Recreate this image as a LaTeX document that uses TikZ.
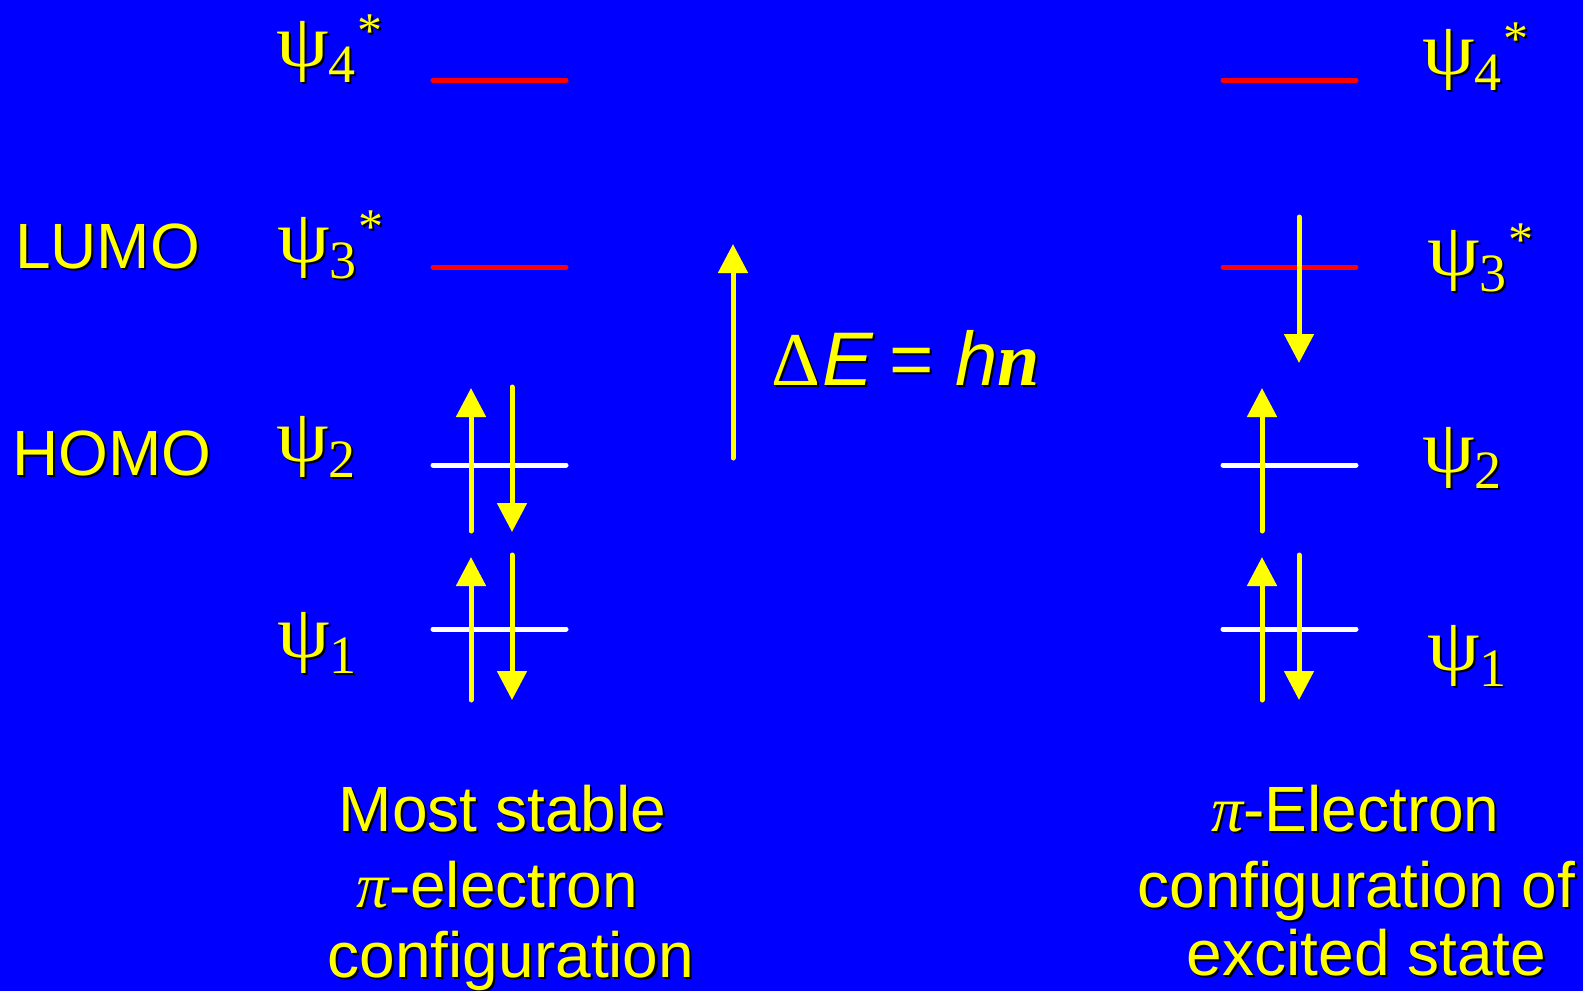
\documentclass[tikz,border=0pt]{standalone}
\usepackage{fontspec}
\setmainfont{Liberation Sans}
\newfontfamily\serif{Liberation Serif}
\usetikzlibrary{arrows.meta}
\definecolor{bg}{RGB}{0,0,255}
\definecolor{yel}{RGB}{255,255,0}
\definecolor{redl}{RGB}{255,0,0}
\newcommand\shd[1]{\makebox[0pt][l]{\hspace{2pt}\raisebox{-2pt}{\color{black}#1}}#1}
\newcommand\psilab[2]{\setbox0=\hbox{\fontsize{75}{75}\selectfont\serif\scalebox{1.12}[1]{ψ}}\raisebox{\dp0}{\copy0}{\fontsize{54}{54}\selectfont\serif #1}\kern2pt\raisebox{35pt}{\fontsize{50}{50}\selectfont\serif #2}}
\tikzset{
  lvl/.style={line width=5pt, line cap=round},
  spin/.style={draw=yel, line width=5pt, line cap=round, -{Triangle[width=29pt,length=29pt]}},
  txt/.style={text=yel, inner sep=0pt, anchor=base, font=\fontsize{64}{64}\selectfont},
  side/.style={text=yel, inner sep=0pt, anchor=base west, font=\fontsize{64}{64}\selectfont},
  psi/.style={text=yel, inner sep=0pt, anchor=base west},
}
\begin{document}
\begin{tikzpicture}[x=1pt,y=-1pt]
\fill[bg] (0,0) rectangle (1583,991);
\useasboundingbox (0,0) rectangle (1583,991);
% level coordinates
\coordinate (L4a) at (433,80);  \coordinate (L4b) at (566,80);
\coordinate (L3a) at (433,267); \coordinate (L3b) at (566,267);
\coordinate (L2a) at (433,465); \coordinate (L2b) at (566,465);
\coordinate (L1a) at (433,629); \coordinate (L1b) at (566,629);
\coordinate (R4a) at (1223,80);  \coordinate (R4b) at (1356,80);
\coordinate (R3a) at (1223,267); \coordinate (R3b) at (1356,267);
\coordinate (R2a) at (1223,465); \coordinate (R2b) at (1356,465);
\coordinate (R1a) at (1223,629); \coordinate (R1b) at (1356,629);
\draw[lvl,redl] (L4a) -- (L4b);
\draw[lvl,redl] (L3a) -- (L3b);
\draw[lvl,white] (L2a) -- (L2b);
\draw[lvl,white] (L1a) -- (L1b);
\draw[lvl,redl] (R4a) -- (R4b);
\draw[lvl,redl] (R3a) -- (R3b);
\draw[lvl,white] (R2a) -- (R2b);
\draw[lvl,white] (R1a) -- (R1b);
% spin arrows left
\coordinate (a1s) at (471,531); \coordinate (a1e) at (471,388);
\coordinate (a2s) at (512,387); \coordinate (a2e) at (512,532);
\coordinate (a3s) at (471,700); \coordinate (a3e) at (471,557);
\coordinate (a4s) at (512,555); \coordinate (a4e) at (512,700);
\draw[spin] (a1s) -- (a1e);
\draw[spin] (a2s) -- (a2e);
\draw[spin] (a3s) -- (a3e);
\draw[spin] (a4s) -- (a4e);
% spin arrows right
\coordinate (b1s) at (1299,217); \coordinate (b1e) at (1299,363);
\coordinate (b2s) at (1262,531); \coordinate (b2e) at (1262,388);
\coordinate (b3s) at (1262,700); \coordinate (b3e) at (1262,557);
\coordinate (b4s) at (1299,555); \coordinate (b4e) at (1299,700);
\draw[spin] (b1s) -- (b1e);
\draw[spin] (b2s) -- (b2e);
\draw[spin] (b3s) -- (b3e);
\draw[spin] (b4s) -- (b4e);
% excitation arrow
\coordinate (cs) at (733,458); \coordinate (ce) at (733,244);
\draw[spin] (cs) -- (ce);
\node[side, font=\fontsize{76}{76}\selectfont] (de) at (771,385) {\shd{{\serif Δ}\kern2pt{\itshape E}\kern-4pt{} = {\itshape h}{\serif\bfseries\itshape n}}};
% side labels
\node[side] (lumo) at (15,268) {\shd{LUMO}};
\node[side] (homo) at (12,475) {\shd{HOMO}};
% psi labels
\node[psi] (pl4) at (276,82) {\shd{\psilab{4}{*}}};
\node[psi] (pl3) at (277,278) {\shd{\psilab{3}{*}}};
\node[psi] (pl2) at (276,477) {\shd{\psilab{2}{}}};
\node[psi] (pl1) at (277,673) {\shd{\psilab{1}{}}};
\node[psi] (pr4) at (1422,90) {\shd{\psilab{4}{*}}};
\node[psi] (pr3) at (1427,291) {\shd{\psilab{3}{*}}};
\node[psi] (pr2) at (1422,488) {\shd{\psilab{2}{}}};
\node[psi] (pr1) at (1427,686) {\shd{\psilab{1}{}}};
% bottom captions
\node[txt] (c1) at (502.5,831) {\shd{Most stable}};
\node[txt] (c2) at (497.5,907) {\shd{{\serif\itshape π}-electron}};
\node[txt] (c3) at (511,977) {\shd{configuration}};
\node[txt] (d1) at (1355.5,831) {\shd{{\serif\itshape π}-Electron}};
\node[txt] (d2) at (1356.5,907) {\shd{configuration of}};
\node[txt] (d3) at (1366.5,975) {\shd{excited state}};
\end{tikzpicture}
\end{document}
